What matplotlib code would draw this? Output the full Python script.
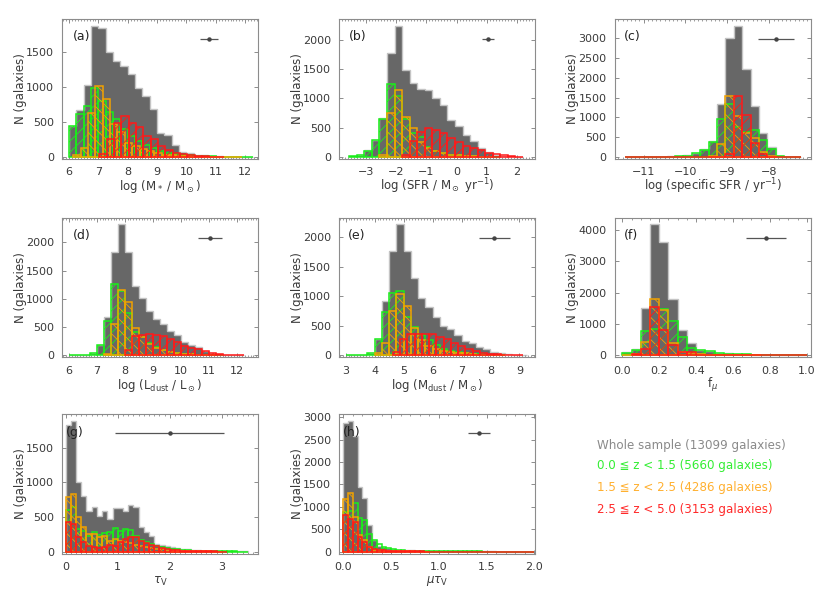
import numpy as np
import matplotlib
matplotlib.use('Agg')
import matplotlib.pyplot as plt
from matplotlib.ticker import MultipleLocator

plt.rcParams['font.family'] = ['DejaVu Sans']
plt.rcParams['hatch.linewidth'] = 0.6

# ---------------- data ----------------
# (a) stellar mass
a_width = 0.25
a_gray_start, a_gray = 6.0, [440, 670, 1030, 1870, 1840, 1490, 1365, 1290, 1185, 990, 870, 690, 335, 310, 165, 75, 50, 30, 20, 12, 8, 5, 3, 2, 2]
a_green_start, a_green = 6.0, [440, 610, 730, 985, 800, 640, 540, 400, 300, 230, 170, 120, 80, 60, 45, 30, 22, 15, 10, 7, 5, 4, 3, 2, 2]
a_orange_start, a_orange = 6.15, [20, 120, 630, 1015, 830, 470, 350, 200, 150, 110, 80, 50, 30, 20, 12, 8, 5, 3, 2, 1, 1, 1, 1]
a_red_start, a_red = 7.03, [40, 255, 480, 590, 480, 420, 300, 250, 160, 100, 60, 35, 20, 12, 8, 5, 3]

# (b) SFR
b_width = 0.25
b_gray_start, b_gray = -3.55, [10, 30, 110, 290, 660, 1780, 2240, 1480, 1265, 1165, 1140, 1005, 890, 630, 530, 375, 275, 150, 80, 40, 20, 10, 5]
b_green_start, b_green = -3.55, [10, 30, 100, 280, 650, 1250, 1035, 650, 410, 345, 170, 100, 60, 40, 25, 15, 10, 5, 3, 2]
b_orange_start, b_orange = -2.55, [30, 750, 1140, 690, 490, 250, 150, 100, 60, 40, 25, 15, 8, 5, 3]
b_red_start, b_red = -1.8, [30, 270, 420, 490, 460, 400, 320, 250, 190, 150, 110, 70, 45, 25, 12, 6]

# (c) specific SFR
c_width = 0.2
c_gray_start, c_gray = -11.45, [2, 2, 2, 2, 3, 10, 20, 45, 100, 190, 400, 1330, 3010, 3320, 2230, 1300, 600, 250, 20, 5, 2]
c_green_start, c_green = -11.45, [0, 0, 0, 2, 3, 5, 10, 30, 90, 180, 380, 960, 1340, 750, 620, 690, 420, 190, 10, 2, 0]
c_orange_start, c_orange = -9.45, [10, 320, 1550, 1040, 610, 490, 130, 20]
c_red_start, c_red = -11.45, [0, 0, 0, 0, 0, 0, 0, 0, 0, 0, 0, 0, 70, 1530, 1060, 340, 70, 3, 0, 0, 0]

# (d) dust luminosity
d_width = 0.25
d_gray_start, d_gray = 6.0, [2, 2, 5, 40, 180, 680, 1835, 2320, 1820, 1225, 1020, 790, 650, 545, 425, 367, 235, 180, 150, 80, 40, 20, 10, 5, 2]
d_green_start, d_green = 6.0, [2, 2, 5, 40, 180, 610, 1260, 1140, 750, 410, 330, 210, 140, 90, 55, 40, 25, 18, 12, 8, 5, 3]
d_orange_start, d_orange = 7.25, [30, 545, 1150, 950, 485, 330, 200, 130, 90, 60, 40, 25, 15, 8, 5, 3]
d_red_start, d_red = 8.0, [100, 337, 367, 380, 367, 350, 280, 230, 160, 130, 118, 70, 40, 20, 12, 8, 5]

# (e) dust mass
e_width = 0.25
e_gray_start, e_gray = 3.0, [2, 2, 5, 35, 270, 910, 1760, 2215, 1760, 1300, 965, 820, 650, 500, 440, 350, 245, 200, 140, 100, 60, 30, 15, 8, 3]
e_green_start, e_green = 3.0, [2, 3, 8, 40, 280, 740, 1050, 1085, 650, 470, 340, 260, 180, 110, 80, 55, 40, 28, 18, 10, 6, 3]
e_orange_start, e_orange = 4.0, [30, 200, 750, 1030, 825, 460, 260, 160, 110, 80, 60, 40, 30, 20, 12, 8, 5, 3]
e_red_start, e_red = 4.63, [60, 280, 360, 360, 360, 360, 310, 270, 200, 155, 113, 75, 45, 28, 17, 11, 6, 3]

# (f) f_mu
f_width = 0.05
f_gray_start, f_gray = 0.0, [90, 200, 1500, 4180, 3600, 1790, 800, 405, 180, 140, 85, 60, 40, 30, 20, 12, 8, 5, 3, 2]
f_green_start, f_green = 0.0, [80, 180, 760, 830, 1470, 1100, 590, 245, 170, 130, 80, 55, 40, 30, 20, 12, 8, 5, 3, 2]
f_orange_start, f_orange = 0.0, [10, 40, 430, 1800, 1440, 400, 120, 60, 25, 15, 8, 5, 3, 2, 1]
f_red_start, f_red = 0.05, [30, 200, 1550, 800, 330, 120, 100, 10, 5, 3, 2, 2, 1, 1, 1, 1, 1, 1, 1]

# (g) tau_V
g_width = 0.1
g_gray_start, g_gray = 0.0, [1835, 1895, 1005, 800, 585, 650, 512, 580, 473, 633, 628, 580, 676, 643, 362, 290, 232, 111, 100, 87, 63, 48, 39, 30, 24, 18, 14, 11, 9, 7, 5, 4, 3, 2, 2]
g_green_start, g_green = 0.0, [600, 640, 330, 300, 230, 290, 246, 265, 290, 338, 304, 328, 314, 232, 170, 135, 111, 87, 68, 55, 42, 33, 26, 20, 15, 12, 9, 7, 5, 4, 3, 2, 2, 1, 1]
g_orange_start, g_orange = 0.0, [787, 835, 500, 362, 260, 250, 210, 220, 150, 180, 160, 140, 120, 100, 80, 60, 50, 40, 30, 22, 15, 10, 8, 5, 4, 3, 2, 2, 1, 1]
g_red_start, g_red = 0.0, [425, 400, 208, 135, 87, 63, 48, 63, 97, 87, 135, 183, 217, 208, 160, 126, 101, 77, 58, 43, 29, 20, 14, 10, 7, 5, 3, 2, 2, 1, 1]

# (h) mu tau_V
h_width = 0.05
h_gray_start, h_gray = 0.0, [2865, 2925, 2590, 1440, 1190, 590, 265, 135, 113, 83, 60, 45, 38, 30, 25, 20, 17, 14, 12, 10, 8, 7, 6, 5, 4, 4, 3, 3, 2, 2, 2, 2, 1, 1, 1, 1, 1, 1, 1, 1]
h_green_start, h_green = 0.0, [875, 895, 1080, 740, 716, 400, 250, 175, 113, 75, 50, 35, 28, 22, 18, 15, 12, 10, 8, 7, 6, 5, 4, 3, 3, 2, 2, 2, 2, 1, 1, 1, 1, 1, 1, 1, 1, 1, 1, 1]
h_orange_start, h_orange = 0.0, [1170, 1310, 780, 370, 263, 92, 45, 25, 15, 10, 6, 4, 3, 2, 2, 1, 1, 1]
h_red_start, h_red = 0.0, [820, 720, 660, 325, 211, 98, 60, 40, 30, 20, 12, 8, 5, 4, 3, 2, 2, 1, 1, 1, 1, 1, 1, 1, 1, 1, 1, 1, 1, 1, 1, 1, 1, 1, 1, 1, 1, 1, 1, 1]

# typical uncertainty markers (x centre, half-width, y)
err_x = [10.77, 1.04, -7.85, 11.05, 8.13, 0.78, 2.0, 1.42]
err_dx = [0.32, 0.21, 0.43, 0.44, 0.53, 0.108, 1.05, 0.118]
err_y = [1685, 2020, 2983, 2070, 1977, 3745, 1715, 2640]

xlabels = [r'log (M$_*$ / M$_\odot$)', r'log (SFR / M$_\odot$ yr$^{-1}$)',
           r'log (specific SFR / yr$^{-1}$)', r'log (L$_{\rm dust}$ / L$_\odot$)',
           r'log (M$_{\rm dust}$ / M$_\odot$)', r'f$_\mu$', r'$\tau_{\rm V}$',
           r'$\mu\tau_{\rm V}$']
panel_tags = ['(a)', '(b)', '(c)', '(d)', '(e)', '(f)', '(g)', '(h)']
xlims = [(5.77, 12.43), (-3.88, 2.59), (-11.68, -7.02), (5.76, 12.76),
         (2.78, 9.53), (-0.04, 1.02), (-0.064, 3.69), (-0.042, 2.005)]
xmajor = [1, 1, 1, 1, 1, 0.2, 1, 0.5]
xminor = [0.1, 0.1, 0.1, 0.1, 0.1, 0.05, 0.1, 0.1]
ymajor = [500, 500, 500, 500, 500, 1000, 500, 500]
tag_x = [0.056, 0.051, 0.045, 0.056, 0.046, 0.045, 0.019, 0.02]

legend_labels = ['Whole sample (13099 galaxies)', '0.0 \u2266 z < 1.5 (5660 galaxies)',
                 '1.5 \u2266 z < 2.5 (4286 galaxies)', '2.5 \u2266 z < 5.0 (3153 galaxies)']

panels = [
    (a_width, (a_gray_start, a_gray), (a_green_start, a_green), (a_orange_start, a_orange), (a_red_start, a_red)),
    (b_width, (b_gray_start, b_gray), (b_green_start, b_green), (b_orange_start, b_orange), (b_red_start, b_red)),
    (c_width, (c_gray_start, c_gray), (c_green_start, c_green), (c_orange_start, c_orange), (c_red_start, c_red)),
    (d_width, (d_gray_start, d_gray), (d_green_start, d_green), (d_orange_start, d_orange), (d_red_start, d_red)),
    (e_width, (e_gray_start, e_gray), (e_green_start, e_green), (e_orange_start, e_orange), (e_red_start, e_red)),
    (f_width, (f_gray_start, f_gray), (f_green_start, f_green), (f_orange_start, f_orange), (f_red_start, f_red)),
    (g_width, (g_gray_start, g_gray), (g_green_start, g_green), (g_orange_start, g_orange), (g_red_start, g_red)),
    (h_width, (h_gray_start, h_gray), (h_green_start, h_green), (h_orange_start, h_orange), (h_red_start, h_red)),
]

GRAY_FILL = '#676767'
GRAY_EDGE = '#c4c4c4'
GREEN = '#1aee1a'
ORANGE = '#f2a200'
RED = '#ff1a1a'
AXC = '#8c8c8c'
TXT = '#3a3a3a'
LEG_COLORS = ['#8a8a8a', '#33ee33', '#ffb030', '#ff2a2a']

W, H = 830, 593
fig = plt.figure(figsize=(W / 100, H / 100), dpi=100)

col_left = [62.3, 339.3, 615.0]
row_top = [19.3, 217.7, 414.0]
ax_w, ax_h = 195.5, 139.5

for i, (width, gray, green, orange, red) in enumerate(panels):
    r, c = divmod(i, 3)
    l = col_left[c]
    t = row_top[r]
    ax = fig.add_axes([l / W, 1 - (t + ax_h) / H, ax_w / W, ax_h / H])

    gs, gv = gray
    gv = np.asarray(gv, float)
    edges = gs + width * np.arange(len(gv) + 1)
    ax.stairs(gv, edges, fill=True, color=GRAY_FILL, zorder=1)
    ax.stairs(gv, edges, color=GRAY_EDGE, lw=1.0, zorder=1.5)

    for (st, vals), col, hat, z in [(green, GREEN, '///', 2), (orange, ORANGE, '\\\\\\', 3), (red, RED, '///', 4)]:
        vals = np.asarray(vals, float)
        lefts = st + width * np.arange(len(vals))
        ax.bar(lefts, vals, width=width, align='edge', fill=False, edgecolor=col,
               hatch=hat, linewidth=1.1, zorder=z)

    ymax = 1.05 * gv.max()
    ax.set_ylim(-0.014 * ymax, ymax)
    ax.set_xlim(*xlims[i])

    ax.errorbar([err_x[i]], [err_y[i]], xerr=[err_dx[i]], fmt='o', ms=2.2,
                color='#444444', ecolor='#555555', elinewidth=0.9, capsize=0, zorder=6)

    ax.xaxis.set_major_locator(MultipleLocator(xmajor[i]))
    ax.xaxis.set_minor_locator(MultipleLocator(xminor[i]))
    ax.yaxis.set_major_locator(MultipleLocator(ymajor[i]))
    ax.tick_params(which='both', direction='in', top=True, right=True, color=AXC,
                   labelcolor=TXT, labelsize=8, pad=6)
    ax.tick_params(which='major', length=3.2, width=0.7)
    ax.tick_params(which='minor', length=1.6, width=0.6)
    for sp in ax.spines.values():
        sp.set_color(AXC)
        sp.set_linewidth(0.8)

    ax.set_xlabel(xlabels[i], fontsize=8.5, color=TXT, va='center')
    ax.xaxis.set_label_coords(0.5, -0.2)
    ax.set_ylabel('N (galaxies)', fontsize=8.5, color=TXT, va='center')
    ax.yaxis.set_label_coords(-0.216, 0.5)

    ty = [0.88, 0.875, 0.866][r]
    ax.text(tag_x[i], ty, panel_tags[i], transform=ax.transAxes, ha='left', va='center',
            fontsize=9, color='#222222', zorder=7)

leg_y = [445.7, 466.0, 487.3, 509.0]
for lab, col, yy in zip(legend_labels, LEG_COLORS, leg_y):
    fig.text(596.7 / W, 1 - yy / H, lab, color=col, fontsize=8.6, ha='left', va='center')

fig.savefig('out.png', dpi=100)
